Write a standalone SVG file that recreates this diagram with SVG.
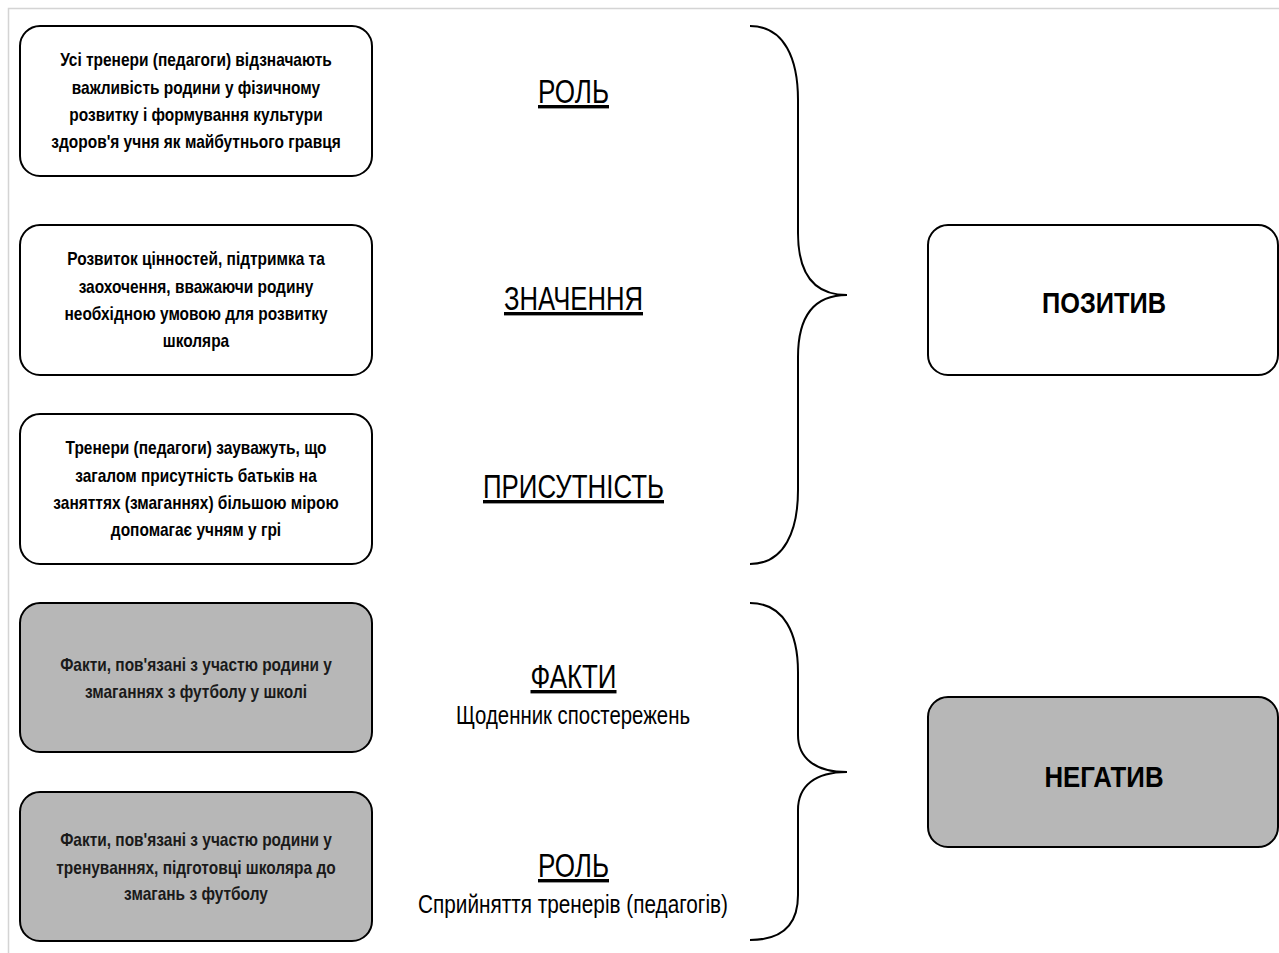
<svg xmlns="http://www.w3.org/2000/svg" width="1279" height="953" viewBox="0 0 1279 953">
<style>
.box{stroke:#000;stroke-width:2;}
.w{fill:#fff;}
.g{fill:#b7b7b7;}
.bt{font-family:"Liberation Sans",Arial,sans-serif;font-weight:bold;font-size:18px;text-anchor:middle;fill:#000;}
.gt{fill:#1a1a1a;}
.lbl{font-family:"Liberation Sans",Arial,sans-serif;font-size:34px;text-anchor:middle;fill:#000;text-decoration:underline;}
.sub{font-family:"Liberation Sans",Arial,sans-serif;font-size:25px;text-anchor:middle;fill:#000;}
.big{font-family:"Liberation Sans",Arial,sans-serif;font-weight:bold;font-size:30px;text-anchor:middle;fill:#000;}
.brace{fill:none;stroke:#000;stroke-width:2;}
</style>
<rect x="0" y="0" width="1279" height="953" fill="#fff"/>
<path d="M8.5,953 L8.5,8.5 L1279,8.5" fill="none" stroke="#d4d4d4" stroke-width="1.5"/>

<g id="box1">
<rect class="box w" x="20" y="26" width="352" height="150" rx="20"/>
<g transform="translate(196,0) scale(0.86,1)">
<text class="bt" x="0" y="66">Усі тренери (педагоги) відзначають</text>
<text class="bt" x="0" y="94">важливість родини у фізичному</text>
<text class="bt" x="0" y="121">розвитку і формування культури</text>
<text class="bt" x="0" y="148">здоров'я учня як майбутнього гравця</text>
</g>
</g>

<g id="box2">
<rect class="box w" x="20" y="225" width="352" height="150" rx="20"/>
<g transform="translate(196,0) scale(0.86,1)">
<text class="bt" x="0" y="265">Розвиток цінностей, підтримка та</text>
<text class="bt" x="0" y="293">заохочення, вважаючи родину</text>
<text class="bt" x="0" y="320">необхідною умовою для розвитку</text>
<text class="bt" x="0" y="347">школяра</text>
</g>
</g>

<g id="box3">
<rect class="box w" x="20" y="414" width="352" height="150" rx="20"/>
<g transform="translate(196,0) scale(0.86,1)">
<text class="bt" x="0" y="454">Тренери (педагоги) зауважуть, що</text>
<text class="bt" x="0" y="482">загалом присутність батьків на</text>
<text class="bt" x="0" y="509">заняттях (змаганнях) більшою мірою</text>
<text class="bt" x="0" y="536">допомагає учням у грі</text>
</g>
</g>

<g id="box4">
<rect class="box g" x="20" y="603" width="352" height="149" rx="20"/>
<g transform="translate(196,0) scale(0.86,1)">
<text class="bt gt" x="0" y="671">Факти, пов'язані з участю родини у</text>
<text class="bt gt" x="0" y="698">змаганнях з футболу у школі</text>
</g>
</g>

<g id="box5">
<rect class="box g" x="20" y="792" width="352" height="149" rx="20"/>
<g transform="translate(196,0) scale(0.86,1)">
<text class="bt gt" x="0" y="846">Факти, пов'язані з участю родини у</text>
<text class="bt gt" x="0" y="874">тренуваннях, підготовці школяра до</text>
<text class="bt gt" x="0" y="900">змагань з футболу</text>
</g>
</g>

<g id="label-rol1">
<text class="lbl" x="573.5" y="103" textLength="71" lengthAdjust="spacingAndGlyphs">РОЛЬ</text>
</g>
<g id="label-znach">
<text class="lbl" x="573.5" y="310" textLength="139" lengthAdjust="spacingAndGlyphs">ЗНАЧЕННЯ</text>
</g>
<g id="label-prys">
<text class="lbl" x="573.5" y="498" textLength="181" lengthAdjust="spacingAndGlyphs">ПРИСУТНІСТЬ</text>
</g>
<g id="label-fakty">
<text class="lbl" x="573.5" y="688" textLength="86" lengthAdjust="spacingAndGlyphs">ФАКТИ</text>
<text class="sub" x="573" y="724" textLength="234" lengthAdjust="spacingAndGlyphs">Щоденник спостережень</text>
</g>
<g id="label-rol2">
<text class="lbl" x="573.5" y="877" textLength="71" lengthAdjust="spacingAndGlyphs">РОЛЬ</text>
<text class="sub" x="573" y="913" textLength="310" lengthAdjust="spacingAndGlyphs">Сприйняття тренерів (педагогів)</text>
</g>

<g id="connectors">
<path class="brace" d="M750,26 C785,26 798,60 798,100 L798,233 C798,275 815,295 847,295 C815,295 798,315 798,357 L798,490 C798,530 785,564 750,564"/>
<path class="brace" d="M750,603 C785,603 798,635 798,672 L798,735 C798,758 815,772 847,772 C815,772 798,786 798,810 L798,895 C798,922 785,940 750,940"/>
</g>

<g id="positive">
<rect class="box w" x="928" y="225" width="350" height="150" rx="20"/>
<text class="big" x="1104" y="313" textLength="124" lengthAdjust="spacingAndGlyphs">ПОЗИТИВ</text>
</g>
<g id="negative">
<rect class="box g" x="928" y="697" width="350" height="150" rx="20"/>
<text class="big" x="1104" y="787" textLength="119" lengthAdjust="spacingAndGlyphs">НЕГАТИВ</text>
</g>
</svg>
